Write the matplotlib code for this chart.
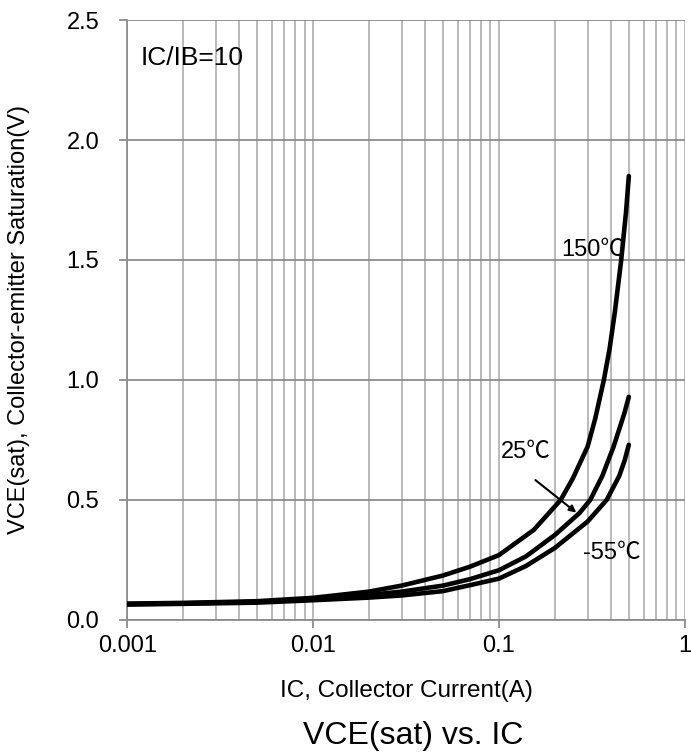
import numpy as np
import matplotlib.pyplot as plt
from matplotlib.ticker import FixedLocator, NullFormatter

plt.rcParams['font.family'] = ['Liberation Sans', 'Noto Sans CJK SC']

# collector current (A) and VCE(sat) (V), per temperature
ic_150 = [0.001, 0.002, 0.005, 0.01, 0.02, 0.03, 0.05, 0.07, 0.1, 0.154, 0.215, 0.25,
          0.3, 0.33, 0.367, 0.394, 0.42, 0.455, 0.483, 0.5]
v_150 = [0.068, 0.071, 0.078, 0.092, 0.118, 0.143, 0.185, 0.222, 0.270, 0.375, 0.500, 0.590,
         0.722, 0.840, 1.000, 1.130, 1.280, 1.500, 1.700, 1.850]

ic_25 = [0.001, 0.002, 0.005, 0.01, 0.02, 0.03, 0.05, 0.07, 0.1, 0.14, 0.2, 0.271,
         0.31, 0.36, 0.414, 0.473, 0.5]
v_25 = [0.066, 0.069, 0.075, 0.087, 0.104, 0.118, 0.143, 0.170, 0.207, 0.265, 0.354, 0.445,
        0.500, 0.600, 0.722, 0.861, 0.930]

ic_m55 = [0.001, 0.002, 0.005, 0.01, 0.02, 0.03, 0.05, 0.07, 0.1, 0.14, 0.2, 0.3,
          0.38, 0.444, 0.475, 0.5]
v_m55 = [0.064, 0.067, 0.072, 0.082, 0.093, 0.102, 0.120, 0.145, 0.172, 0.225, 0.300, 0.410,
         0.500, 0.600, 0.665, 0.730]

x_ticks = [0.001, 0.01, 0.1, 1]
x_labels = ["0.001", "0.01", "0.1", "1"]
y_ticks = [0.0, 0.5, 1.0, 1.5, 2.0, 2.5]

fig = plt.figure(figsize=(6.91, 7.56), dpi=100)
ax = fig.add_axes([0.184, 0.18, 0.807, 0.7935])

for x, v in ((ic_150, v_150), (ic_25, v_25), (ic_m55, v_m55)):
    ax.plot(x, v, color="black", lw=3.3, solid_capstyle="round",
            solid_joinstyle="round", zorder=3)

ax.set_xscale("log")
ax.set_xlim(0.001, 1)
ax.set_ylim(0, 2.5)
ax.set_xticks(x_ticks)
ax.set_xticklabels(x_labels)
minors = [m * 10.0 ** e for e in (-3, -2, -1) for m in range(2, 10)]
ax.xaxis.set_minor_locator(FixedLocator(minors))
ax.xaxis.set_minor_formatter(NullFormatter())
ax.set_yticks(y_ticks)
ax.set_yticklabels([f"{t:.1f}" for t in y_ticks])

ax.grid(True, which="major", axis="y", color="#8c8c8c", lw=1.3)
ax.grid(True, which="major", axis="x", color="#b4b4b4", lw=1.3)
ax.grid(True, which="minor", axis="x", color="#b4b4b4", lw=1.3)
for s in ("top", "right"):
    ax.spines[s].set_visible(False)
for s in ("left", "bottom"):
    ax.spines[s].set_color("#8c8c8c")
    ax.spines[s].set_linewidth(1.3)
ax.tick_params(axis="both", which="major", color="#8c8c8c", width=1.3, length=6,
               labelsize=17)
ax.tick_params(axis="y", which="major", pad=14)
ax.tick_params(axis="x", which="major", pad=5)
ax.tick_params(axis="x", which="minor", length=0)

ax.set_xlabel("IC, Collector Current(A)", fontsize=17.5)
ax.xaxis.set_label_coords(0.5, -0.1)
ax.set_ylabel("VCE(sat), Collector-emitter Saturation(V)", fontsize=17)
ax.yaxis.set_label_coords(-0.175, 0.5)
fig.text(0.598, 0.026, "VCE(sat) vs. IC", fontsize=23, ha="center", va="center")

ax.text(0.00118, 2.34, "IC/IB=10", fontsize=19, va="center")
ax.text(0.47, 1.54, "150℃", fontsize=17, ha="right", va="center")
ax.text(0.14, 0.70, "25℃", fontsize=17, ha="center", va="center")
ax.annotate("", xy=(0.268, 0.44), xytext=(0.153, 0.59),
            arrowprops=dict(arrowstyle="-|>", color="black", lw=1.5))
ax.text(0.285, 0.28, "-55℃", fontsize=17, ha="left", va="center")

fig.savefig("out.png", dpi=100)
